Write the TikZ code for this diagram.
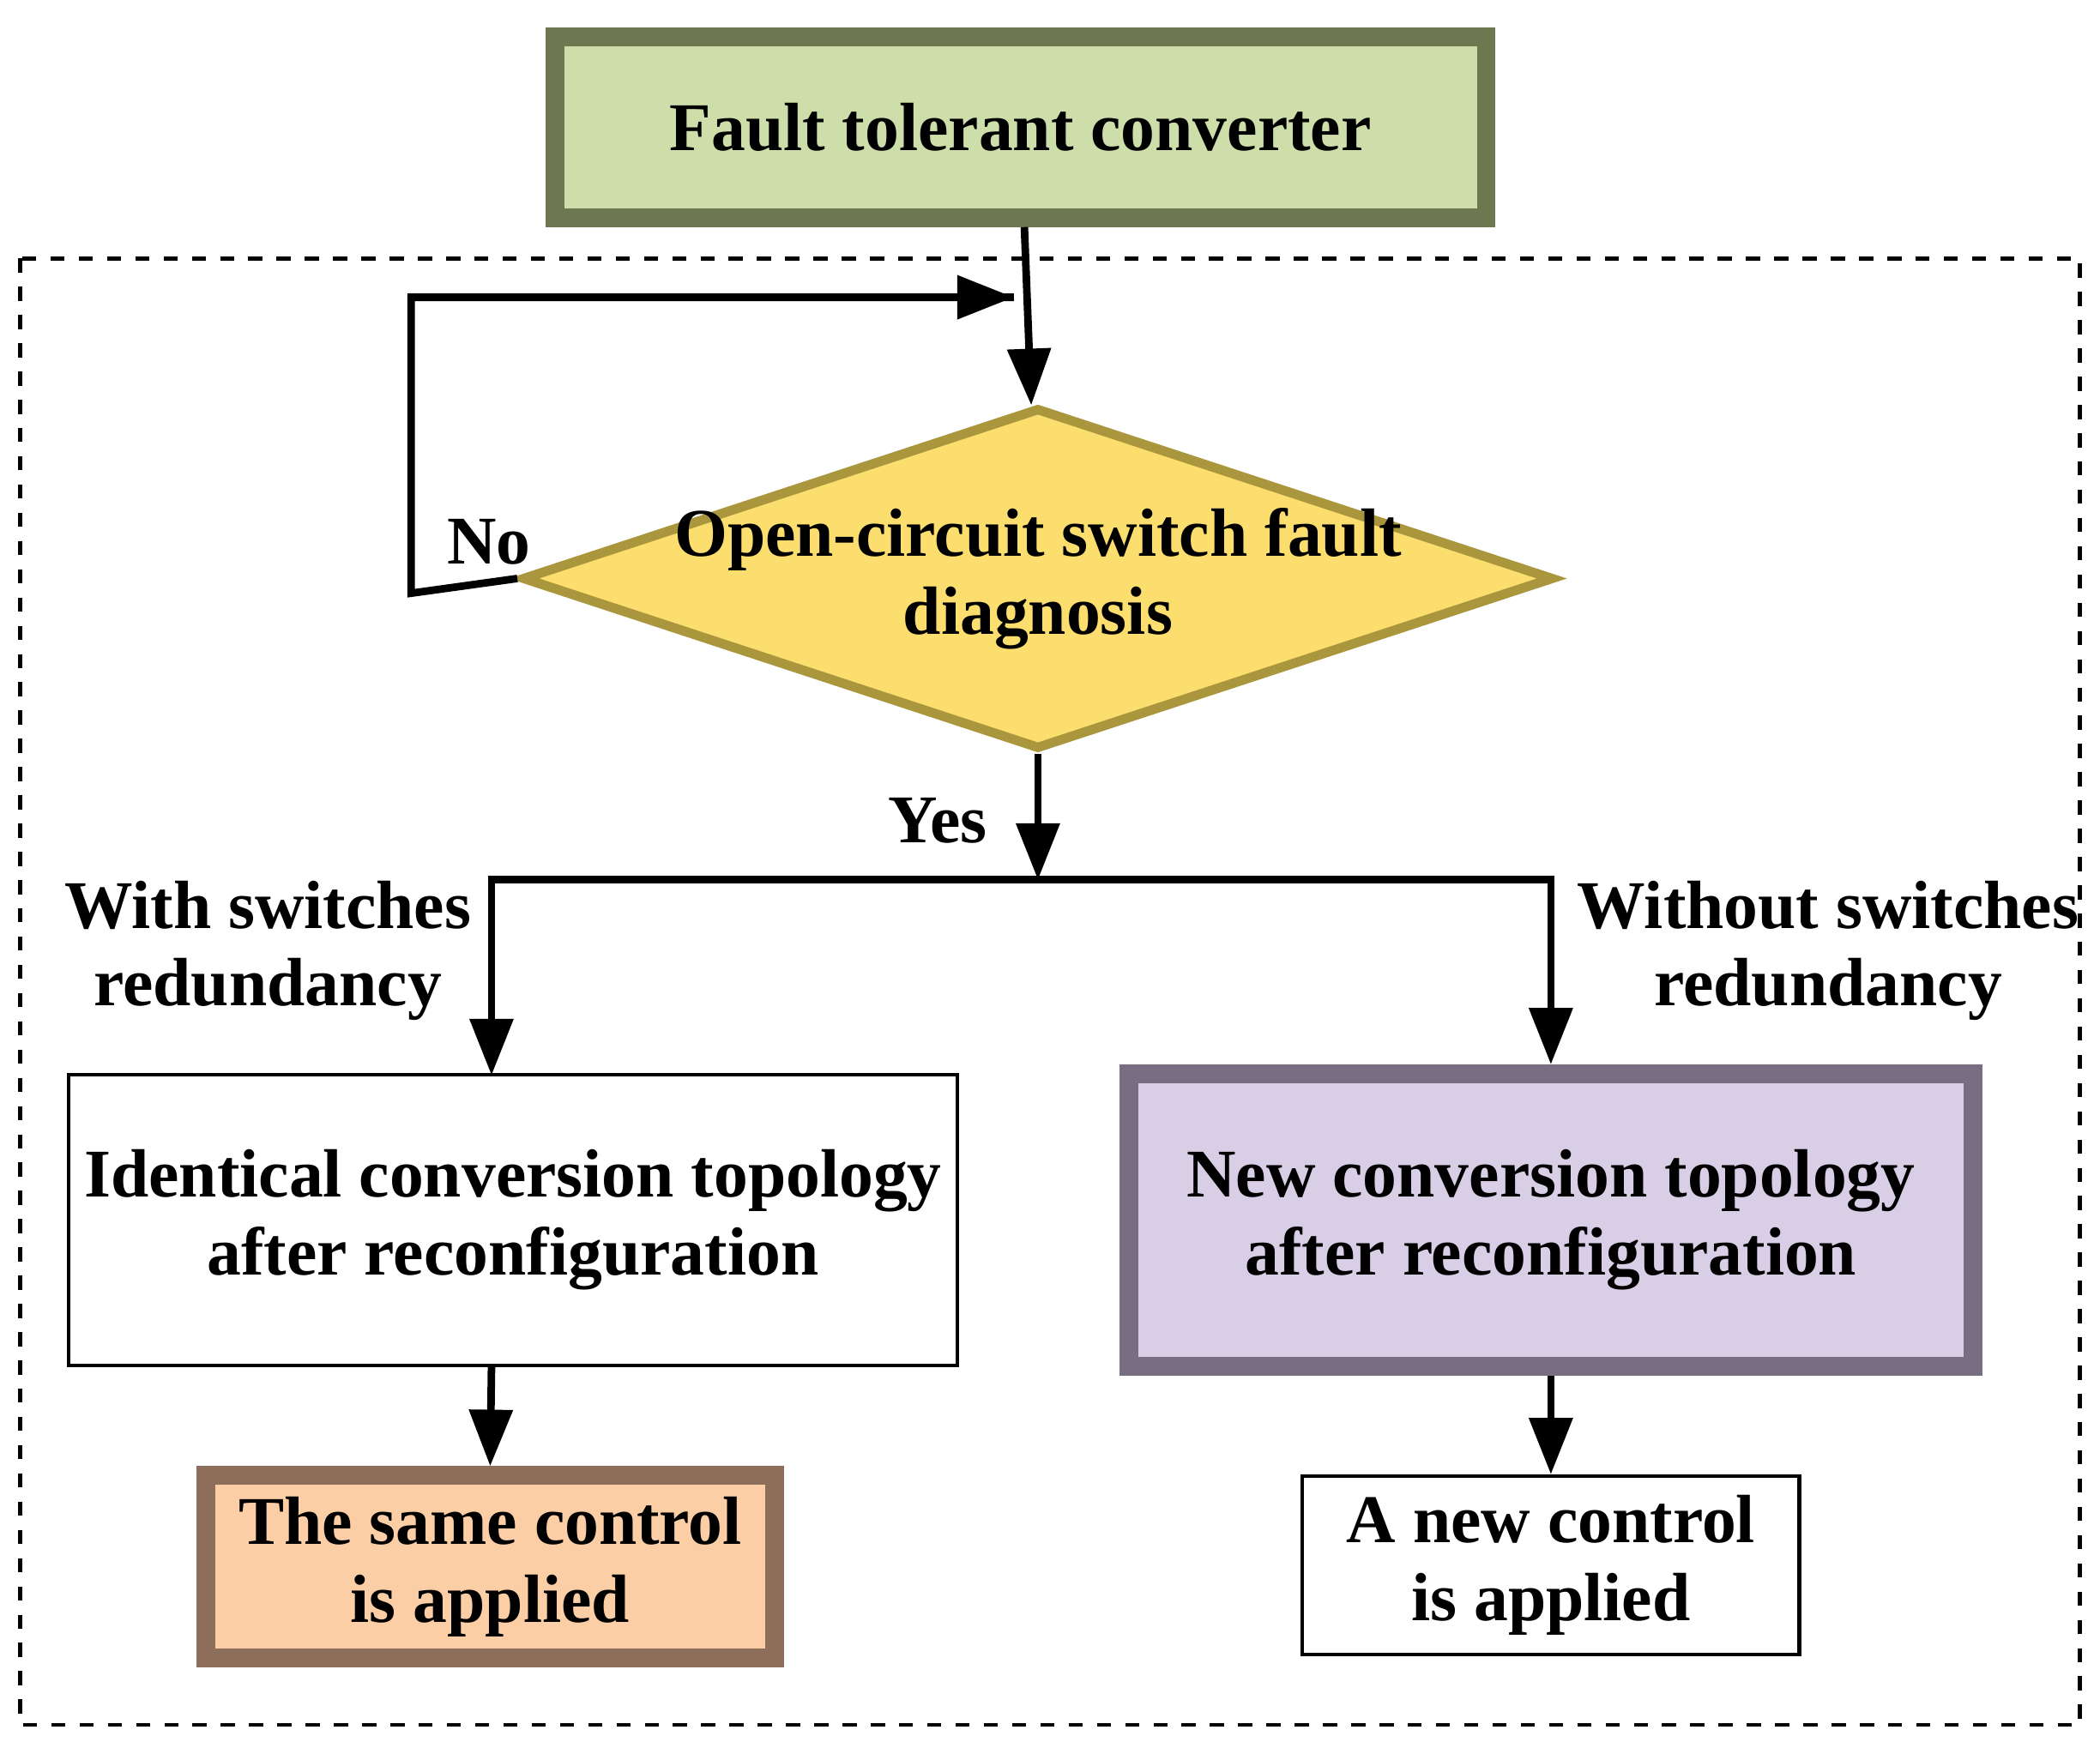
\documentclass[tikz,border=0pt]{standalone}
\usepackage{fontspec}
\setmainfont{Liberation Serif}
\usetikzlibrary{shapes.geometric,arrows.meta}
\definecolor{boxgreen}{RGB}{206,222,170}
\definecolor{edgegreen}{RGB}{110,120,80}
\definecolor{boxyellow}{RGB}{252,222,110}
\definecolor{edgeyellow}{RGB}{170,150,60}
\definecolor{boxpurple}{RGB}{216,206,230}
\definecolor{edgepurple}{RGB}{120,110,130}
\definecolor{boxorange}{RGB}{252,206,166}
\definecolor{edgeorange}{RGB}{140,110,90}
\tikzstyle{txt}=[font=\bfseries\fontsize{14.5}{16.5}\selectfont, align=center]
\tikzstyle{block}=[rectangle, draw, thick, txt]
\tikzstyle{bevel}=[line width=3.5pt, double distance=0pt]
\tikzstyle{flow}=[-{Triangle[length=12pt,width=9pt]}, line width=1.6pt]
\begin{document}
\begin{tikzpicture}[x=0.01cm,y=-0.01cm]
  \useasboundingbox (0,0) rectangle (1568,1305);
  %% Outer frame
  \draw[dashed, thick] (15,193) rectangle (1553,1288);

  %% Blocks
  \draw (762,95) node[block, fill=boxgreen, draw=edgegreen, line width=4pt, minimum width=6.95cm, minimum height=1.35cm] (FTC) {Fault tolerant converter};
  \draw (775,432) node[diamond, aspect=3, fill=boxyellow, draw=edgeyellow, line width=2pt, minimum width=7.7cm, minimum height=2.55cm, inner sep=0pt] (DIAG) {};
  \draw (775,432) node[txt] {Open-circuit switch fault\\diagnosis};
  \draw (383,911) node[block, fill=white, minimum width=6.53cm, minimum height=2.17cm] (IDT) {Identical conversion topology\\after reconfiguration};
  \draw (1158,911) node[block, fill=boxpurple, draw=edgepurple, line width=4pt, minimum width=6.3cm, minimum height=2.18cm] (NEW) {New conversion topology\\after reconfiguration};
  \draw (366,1170) node[block, fill=boxorange, draw=edgeorange, line width=4pt, minimum width=4.24cm, minimum height=1.36cm] (SAME) {The same control\\is applied};
  \draw (1158,1169) node[block, fill=white, minimum width=3.71cm, minimum height=1.33cm] (ANEW) {A new control\\is applied};

  %% Connectors
  \coordinate (LOOP) at (757,222);
  \coordinate (SPLIT) at (775,657);
  \draw[flow] (FTC) -- (DIAG);
  \draw[flow, -] (DIAG.west) -- (307,443) -- (307,222) -- (LOOP);
  \draw[flow] (307,222) -- (LOOP);
  \draw[flow] (DIAG.south) -- (SPLIT);
  \draw[flow] (SPLIT) -- (367,657) -- (367,803);
  \draw[flow] (SPLIT) -- (1158,657) -- (NEW.north);
  \draw[flow] (367,1020) -- (SAME.north);
  \draw[flow] (NEW.south) -- (ANEW.north);

  %% Labels
  \draw (365,405) node[txt] (NO) {No};
  \draw (700,613) node[txt] (YES) {Yes};
  \draw (200,710) node[txt] (WITH) {With switches\\redundancy};
  \draw (1365,710) node[txt] (WOUT) {Without switches\\redundancy};
\end{tikzpicture}
\end{document}
